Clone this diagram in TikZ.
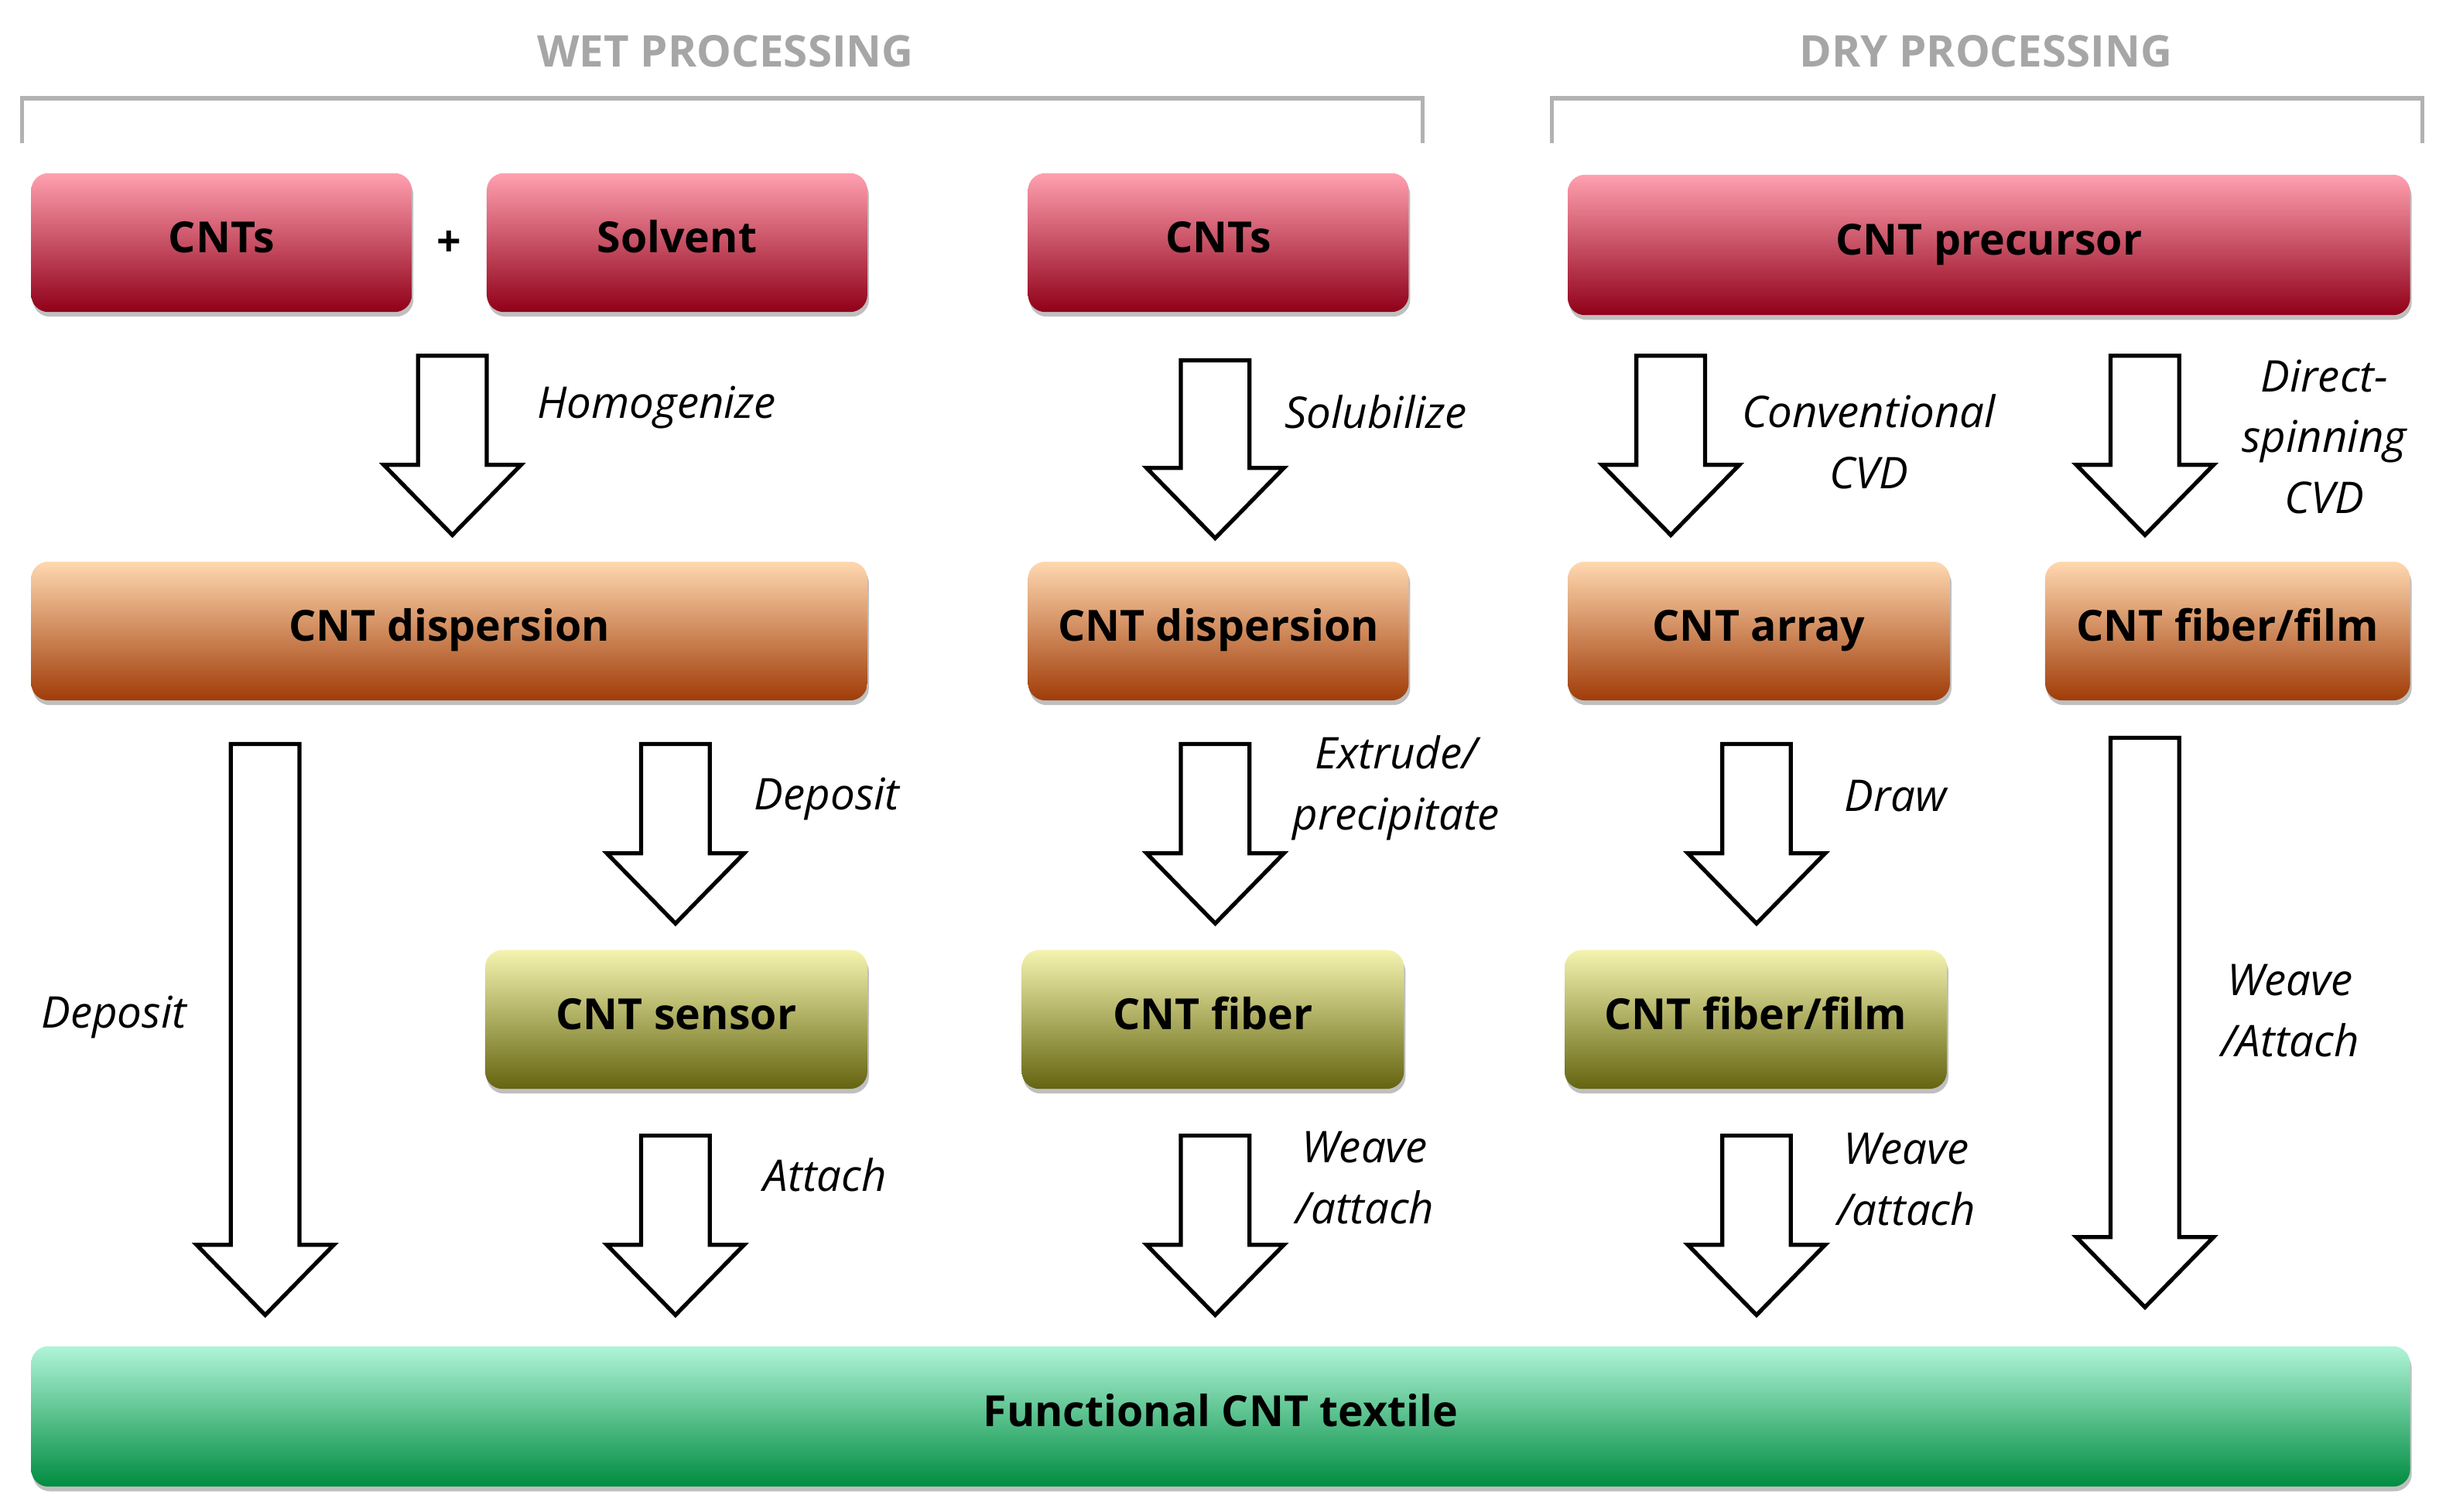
\documentclass[tikz,border=0pt]{standalone}
\usepackage{fontspec}
\setmainfont{Open Sans}
\usetikzlibrary{shadows}
\definecolor{rT}{HTML}{FFA0B0}\definecolor{rM}{HTML}{F0204A}\definecolor{rB}{HTML}{900018}
\definecolor{oT}{HTML}{FFD8B0}\definecolor{oM}{HTML}{F88A48}\definecolor{oB}{HTML}{A03C08}
\definecolor{yT}{HTML}{F4F4B0}\definecolor{yM}{HTML}{DCDC40}\definecolor{yB}{HTML}{646410}
\definecolor{gT}{HTML}{B0F4D8}\definecolor{gM}{HTML}{00E080}\definecolor{gB}{HTML}{008C40}
\begin{document}
\begin{tikzpicture}[x=1pt,y=-1pt,
 box/.style={rounded corners=11pt,font=\fontsize{27.5}{30}\selectfont\bfseries,text=black},
 red/.style={box,top color=rT,middle color=rM,bottom color=rB},
 org/.style={box,top color=oT,middle color=oM,bottom color=oB},
 yel/.style={box,top color=yT,middle color=yM,bottom color=yB},
 grn/.style={box,top color=gT,middle color=gM,bottom color=gB},
 lab/.style={font=\fontsize{28}{39}\selectfont\itshape,align=center},
 hdr/.style={font=\fontsize{28}{30}\selectfont\bfseries,text=black!35},
 barr/.style={draw=black,line width=2.6pt,fill=white,line join=miter}]
\useasboundingbox (0,0) rectangle (1568,969);
\newcommand\mybox[7]{\fill[black!25,rounded corners=11pt] (#3+1,#4+3) rectangle (#5+1,#6+3);
 \path[#1] (#3,#4) rectangle (#5,#6);
 \node[font=\fontsize{27.5}{30}\selectfont\bfseries,text height=19pt,text depth=6pt] (#2) at ({(#3+#5)/2},{(#4+#6)/2}) {#7};}
\newcommand\blockarr[4]{% name, x, ytop, ybot
 \path[barr] (#2-22,#3) -- (#2+22,#3) -- (#2+22,#4-45) -- (#2+44,#4-45) -- (#2,#4) -- (#2-44,#4-45) -- (#2-22,#4-45) -- cycle;
 \coordinate (#1) at (#2,#3);}
% headers
\node[hdr] (wet) at (465,33) {WET PROCESSING};
\node[hdr] (dry) at (1273,33) {DRY PROCESSING};
\draw[black!30,line width=2.5pt] (14,92) -- (14,63) -- (912,63) -- (912,92);
\draw[black!30,line width=2.5pt] (995,92) -- (995,63) -- (1553,63) -- (1553,92);
% boxes
\mybox{red}{a}{20}{111}{264}{200}{CNTs}
\mybox{red}{b}{312}{111}{556}{200}{Solvent}
\mybox{red}{c}{659}{111}{903}{200}{CNTs}
\mybox{red}{d}{1005}{112}{1545}{202}{CNT precursor}
\node[font=\fontsize{27.5}{30}\selectfont\bfseries] (plus) at (288,156) {+};
\mybox{org}{e}{20}{360}{556}{449}{CNT dispersion}
\mybox{org}{f}{659}{360}{903}{449}{CNT dispersion}
\mybox{org}{g}{1005}{360}{1250}{449}{CNT array}
\mybox{org}{h}{1311}{360}{1545}{449}{CNT fiber/film}
\mybox{yel}{i}{311}{609}{556}{698}{CNT sensor}
\mybox{yel}{j}{655}{609}{900}{698}{CNT fiber}
\mybox{yel}{k}{1003}{609}{1248}{698}{CNT fiber/film}
\mybox{grn}{l}{20}{863}{1545}{953}{Functional CNT textile}
% arrows
\blockarr{A1}{290}{228}{343}
\blockarr{A2}{779}{231}{345}
\blockarr{A3}{1071}{228}{343}
\blockarr{A4}{1375}{228}{343}
\blockarr{A5}{170}{477}{843}
\blockarr{A6}{433}{477}{592}
\blockarr{A7}{779}{477}{592}
\blockarr{A8}{1126}{477}{592}
\blockarr{A9}{1375}{473}{838}
\blockarr{A10}{433}{728}{843}
\blockarr{A11}{779}{728}{843}
\blockarr{A12}{1126}{728}{843}
% labels
\node[lab,anchor=west] (L1) at (341,261) {Homogenize};
\node[lab,anchor=west] (L2) at (820,264) {Solubilize};
\node[lab] (L3) at (1198,283) {Conventional\\CVD};
\node[lab] (L4) at (1490,280) {Direct-\\spinning\\CVD};
\node[lab] (L5) at (73,652) {Deposit};
\node[lab,anchor=west] (L6) at (480,512) {Deposit};
\node[lab] (L7) at (895,505) {Extrude/\\precipitate};
\node[lab,anchor=west] (L8) at (1179,510) {Draw};
\node[lab] (L9) at (1468,648) {Weave\\/Attach};
\node[lab,anchor=west] (L10) at (486,753) {Attach};
\node[lab] (L11) at (875,755) {Weave\\/attach};
\node[lab] (L12) at (1222,756) {Weave\\/attach};
\end{tikzpicture}
\end{document}
